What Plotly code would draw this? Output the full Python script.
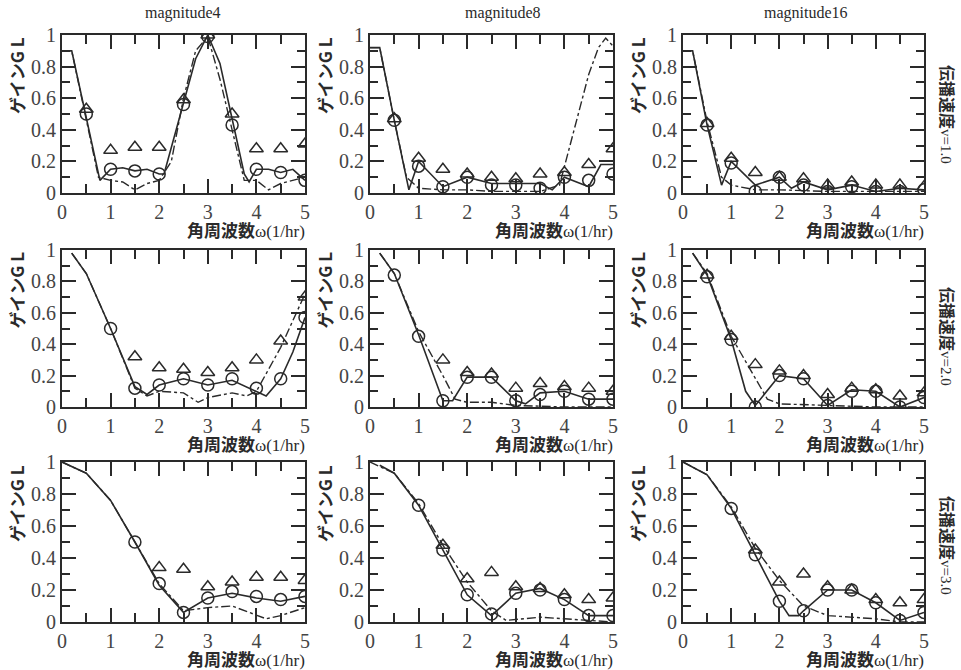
import plotly.graph_objects as go
from plotly.subplots import make_subplots

# ---------------- data ----------------
OMEGA = [0.5, 1.0, 1.5, 2.0, 2.5, 3.0, 3.5, 4.0, 4.5, 5.0]
X_TICKS = [0, 1, 2, 3, 4, 5]
Y_TICKS = [0, 0.2, 0.4, 0.6, 0.8, 1]
Y_TICK_TEXT = ["0", "0.2", "0.4", "0.6", "0.8", "1"]
COL_TITLES = ["magnitude4", "magnitude8", "magnitude16"]
ROW_LABELS = ["1.0", "2.0", "3.0"]

# row 1 : v = 1.0
S11_X = [0, 0.2, 0.78, 1.0, 1.25, 1.5, 1.75, 2.0, 2.1, 2.5, 2.75, 3.0, 3.25, 3.5, 3.75, 3.85, 4.0, 4.25, 4.5, 4.75, 5.0]
S11_Y = [0.9, 0.9, 0.08, 0.15, 0.16, 0.14, 0.15, 0.12, 0.12, 0.56, 0.85, 1.0, 0.82, 0.47, 0.12, 0.07, 0.15, 0.15, 0.13, 0.15, 0.08]
D11_X = [0, 0.2, 0.75, 1.0, 1.25, 1.5, 1.75, 2.0, 2.25, 2.5, 2.75, 3.0, 3.25, 3.5, 3.75, 4.0, 4.25, 4.5, 4.75, 5.0]
D11_Y = [0.9, 0.9, 0.1, 0.08, 0.07, 0.02, 0.06, 0.08, 0.2, 0.6, 0.9, 0.99, 0.72, 0.4, 0.08, 0.08, 0.02, 0.06, 0.08, 0.1]
C11 = [0.5, 0.15, 0.14, 0.12, 0.56, 0.99, 0.43, 0.15, 0.13, 0.08]
T11 = [0.53, 0.27, 0.29, 0.29, 0.59, 1.0, 0.5, 0.28, 0.28, 0.31]

S12_X = [0, 0.2, 0.5, 0.8, 1.0, 1.5, 2.0, 2.5, 3.0, 3.5, 3.75, 4.0, 4.5, 4.75, 5.0]
S12_Y = [0.92, 0.92, 0.46, 0.02, 0.2, 0.04, 0.1, 0.06, 0.06, 0.06, 0.02, 0.1, 0.04, 0.18, 0.18]
D12_X = [0, 0.2, 0.5, 0.75, 1.0, 1.5, 2.0, 2.5, 3.0, 3.5, 3.9, 4.2, 4.5, 4.7, 4.85, 5.0]
D12_Y = [0.92, 0.92, 0.46, 0.1, 0.03, 0.02, 0.02, 0.01, 0.01, 0.01, 0.05, 0.4, 0.75, 0.92, 0.98, 0.93]
C12 = [0.46, 0.17, 0.04, 0.1, 0.05, 0.05, 0.03, 0.1, 0.08, 0.12]
T12 = [0.47, 0.22, 0.15, 0.12, 0.1, 0.09, 0.12, 0.13, 0.18, 0.28]

S13_X = [0, 0.2, 0.5, 0.8, 1.0, 1.5, 2.0, 2.25, 2.5, 3.0, 3.5, 4.0, 4.5, 5.0]
S13_Y = [0.9, 0.9, 0.43, 0.05, 0.2, 0.05, 0.1, 0.03, 0.07, 0.02, 0.05, 0.01, 0.03, 0.02]
D13_X = [0, 0.2, 0.5, 0.8, 1.0, 1.5, 2.0, 3.0, 4.0, 5.0]
D13_Y = [0.9, 0.9, 0.45, 0.1, 0.05, 0.02, 0.02, 0.01, 0.01, 0.01]
C13 = [0.43, 0.19, 0.01, 0.1, 0.05, 0.01, 0.04, 0.01, 0.01, 0.02]
T13 = [0.44, 0.22, 0.13, 0.1, 0.09, 0.05, 0.07, 0.05, 0.05, 0.04]

# row 2 : v = 2.0
S21_X = [0.2, 0.5, 1.0, 1.5, 1.75, 2.0, 2.5, 3.0, 3.5, 4.0, 4.2, 4.5, 4.75, 5.0]
S21_Y = [0.98, 0.85, 0.5, 0.13, 0.08, 0.14, 0.18, 0.14, 0.17, 0.1, 0.07, 0.18, 0.35, 0.57]
D21_X = [0.2, 0.5, 1.0, 1.5, 1.75, 2.0, 2.5, 2.8, 3.0, 3.5, 3.8, 4.0, 4.5, 4.75, 5.0]
D21_Y = [0.98, 0.85, 0.5, 0.12, 0.07, 0.1, 0.09, 0.03, 0.06, 0.09, 0.07, 0.1, 0.38, 0.55, 0.72]
C21 = [None, 0.5, 0.12, 0.14, 0.18, 0.14, 0.18, 0.12, 0.18, 0.57]
T21 = [None, None, 0.32, 0.25, 0.24, 0.22, 0.25, 0.3, 0.42, 0.7]

S22_X = [0.2, 0.5, 1.0, 1.5, 1.7, 2.0, 2.5, 3.0, 3.2, 3.5, 4.0, 4.5, 5.0]
S22_Y = [0.98, 0.85, 0.46, 0.04, 0.04, 0.19, 0.19, 0.04, 0.02, 0.09, 0.1, 0.05, 0.05]
D22_X = [0.2, 0.5, 1.0, 1.5, 1.75, 2.0, 2.5, 3.0, 4.0, 5.0]
D22_Y = [0.98, 0.85, 0.48, 0.2, 0.05, 0.03, 0.03, 0.01, 0.0, 0.0]
C22 = [0.84, 0.45, 0.04, 0.19, 0.19, 0.04, 0.08, 0.1, 0.05, 0.05]
T22 = [None, None, 0.3, 0.22, 0.21, 0.12, 0.15, 0.13, 0.12, 0.1]

S23_X = [0.2, 0.5, 1.0, 1.3, 1.5, 2.0, 2.5, 3.0, 3.5, 4.0, 4.5, 5.0]
S23_Y = [0.98, 0.84, 0.43, 0.1, 0.01, 0.2, 0.18, 0.01, 0.11, 0.1, 0.0, 0.06]
D23_X = [0.2, 0.5, 1.0, 1.5, 1.75, 2.0, 3.0, 4.0, 5.0]
D23_Y = [0.98, 0.85, 0.45, 0.18, 0.05, 0.02, 0.01, 0.0, 0.0]
C23 = [0.83, 0.43, 0.0, 0.2, 0.18, 0.01, 0.1, 0.1, 0.0, 0.06]
T23 = [0.84, 0.45, 0.27, 0.23, 0.2, 0.08, 0.12, 0.11, 0.07, 0.09]

# row 3 : v = 3.0
S31_X = [0, 0.5, 1.0, 1.5, 2.0, 2.5, 3.0, 3.5, 4.0, 4.5, 5.0]
S31_Y = [1.0, 0.93, 0.76, 0.5, 0.23, 0.06, 0.15, 0.18, 0.15, 0.13, 0.16]
D31_X = [0, 0.5, 1.0, 1.5, 2.0, 2.5, 3.0, 3.5, 4.0, 4.2, 4.5, 5.0]
D31_Y = [1.0, 0.93, 0.76, 0.5, 0.24, 0.07, 0.09, 0.1, 0.04, 0.02, 0.04, 0.09]
C31 = [None, None, 0.5, 0.24, 0.06, 0.15, 0.19, 0.16, 0.14, 0.16]
T31 = [None, None, None, 0.34, 0.33, 0.22, 0.25, 0.28, 0.28, 0.26]

S32_X = [0.2, 0.5, 1.0, 1.5, 2.0, 2.5, 3.0, 3.5, 4.0, 4.5, 5.0]
S32_Y = [0.98, 0.93, 0.73, 0.45, 0.17, 0.04, 0.18, 0.21, 0.14, 0.04, 0.04]
D32_X = [0, 0.5, 1.0, 1.5, 2.0, 2.5, 2.8, 3.5, 4.0, 5.0]
D32_Y = [1.0, 0.93, 0.74, 0.48, 0.25, 0.07, 0.01, 0.03, 0.02, 0.0]
C32 = [None, 0.73, 0.45, 0.17, 0.05, 0.18, 0.2, 0.14, 0.04, 0.04]
T32 = [None, None, 0.48, 0.27, 0.31, 0.22, 0.21, 0.17, 0.14, 0.15]

S33_X = [0, 0.5, 1.0, 1.5, 2.0, 2.2, 2.4, 2.5, 3.0, 3.5, 4.0, 4.5, 5.0]
S33_Y = [1.0, 0.92, 0.71, 0.42, 0.13, 0.04, 0.04, 0.07, 0.2, 0.2, 0.12, 0.01, 0.06]
D33_X = [0, 0.5, 1.0, 1.5, 2.0, 2.5, 3.0, 3.5, 4.0, 4.5, 5.0]
D33_Y = [1.0, 0.92, 0.72, 0.46, 0.26, 0.1, 0.04, 0.03, 0.02, 0.0, 0.0]
C33 = [None, 0.71, 0.42, 0.13, 0.07, 0.2, 0.2, 0.12, 0.01, 0.06]
T33 = [None, None, 0.45, 0.25, 0.3, 0.22, 0.2, 0.14, 0.12, 0.14]

PANELS = [
    [(S11_X, S11_Y, D11_X, D11_Y, C11, T11), (S12_X, S12_Y, D12_X, D12_Y, C12, T12), (S13_X, S13_Y, D13_X, D13_Y, C13, T13)],
    [(S21_X, S21_Y, D21_X, D21_Y, C21, T21), (S22_X, S22_Y, D22_X, D22_Y, C22, T22), (S23_X, S23_Y, D23_X, D23_Y, C23, T23)],
    [(S31_X, S31_Y, D31_X, D31_Y, C31, T31), (S32_X, S32_Y, D32_X, D32_Y, C32, T32), (S33_X, S33_Y, D33_X, D33_Y, C33, T33)],
]

# ---------------- layout ----------------
W, H = 961, 670
COL_PX = [(62, 305), (370, 613), (683, 924)]
ROW_PX = [(35, 193), (250, 407), (462, 622)]
INK = "#2a2a2a"
SERIF = "Liberation Serif"
GOTHIC = "Noto Sans CJK JP"

fig = make_subplots(rows=3, cols=3)

for r in range(3):
    for c in range(3):
        sx, sy, dx, dy, cy, ty = PANELS[r][c]
        fig.add_trace(go.Scatter(x=sx, y=sy, mode="lines", line=dict(color=INK, width=1.6),
                                 showlegend=False, hoverinfo="skip"), row=r + 1, col=c + 1)
        fig.add_trace(go.Scatter(x=dx, y=dy, mode="lines", line=dict(color=INK, width=1.4, dash="dashdot"),
                                 showlegend=False, hoverinfo="skip"), row=r + 1, col=c + 1)
        fig.add_trace(go.Scatter(x=OMEGA, y=cy, mode="markers",
                                 marker=dict(symbol="circle-open", size=12, color=INK, line=dict(width=1.5)),
                                 showlegend=False), row=r + 1, col=c + 1)
        fig.add_trace(go.Scatter(x=OMEGA, y=ty, mode="markers",
                                 marker=dict(symbol="triangle-up-open", size=12, color=INK, line=dict(width=1.5)),
                                 showlegend=False), row=r + 1, col=c + 1)

        x0, x1 = COL_PX[c]
        y0, y1 = ROW_PX[r]
        fig.update_xaxes(domain=[x0 / W, x1 / W], range=[0, 5], tickvals=X_TICKS, automargin=False,
                         ticks="inside", ticklen=14, tickwidth=2, tickcolor=INK,
                         minor=dict(dtick=0.5, ticks="inside", ticklen=9, tickwidth=2, tickcolor=INK),
                         showline=True, linewidth=2, linecolor=INK, mirror="ticks",
                         showgrid=False, zeroline=False,
                         tickfont=dict(family=SERIF, size=20, color="#444"),
                         row=r + 1, col=c + 1)
        fig.update_yaxes(domain=[1 - y1 / H, 1 - y0 / H], range=[0, 1], tickvals=Y_TICKS, ticktext=Y_TICK_TEXT,
                         automargin=False,
                         ticks="inside", ticklen=14, tickwidth=2, tickcolor=INK,
                         minor=dict(dtick=0.1, ticks="inside", ticklen=8, tickwidth=2, tickcolor=INK),
                         showline=True, linewidth=2, linecolor=INK, mirror="ticks",
                         showgrid=False, zeroline=False,
                         tickfont=dict(family=SERIF, size=20, color="#444"),
                         row=r + 1, col=c + 1)

        # y title
        fig.add_annotation(x=(x0 - 46) / W, y=1 - ((y0 + y1) / 2 - 38) / H, xref="paper", yref="paper",
                           xanchor="center", yanchor="middle",
                           text="<b>ゲインG L</b>", textangle=-90, showarrow=False,
                           font=dict(family=GOTHIC, size=17, color=INK))
        # x title
        fig.add_annotation(x=(x1 + 2) / W, y=1 - (y1 + 36) / H, xref="paper", yref="paper",
                           xanchor="right", yanchor="middle",
                           text="<b>角周波数</b><span style='font-family:Liberation Serif;font-size:17px'>ω(1/hr)</span>",
                           showarrow=False, font=dict(family=GOTHIC, size=17, color=INK))

# column titles
for c, t in enumerate(COL_TITLES):
    cx = [183, 503, 806][c]
    fig.add_annotation(x=cx / W, y=1 - 13 / H, xref="paper", yref="paper", text=t, showarrow=False,
                       xanchor="center", yanchor="middle",
                       font=dict(family=SERIF, size=16, color=INK))

# row labels
for r, v in enumerate(ROW_LABELS):
    cy = [114, 336, 545][r]
    fig.add_annotation(x=948 / W, y=1 - cy / H, xref="paper", yref="paper",
                       xanchor="center", yanchor="middle",
                       text="<b>伝播速度</b><span style='font-family:Liberation Serif;font-size:15px'>v=" + v + "</span>",
                       textangle=90, showarrow=False, font=dict(family=GOTHIC, size=16, color=INK))

fig.update_layout(width=W, height=H, margin=dict(l=0, r=0, t=0, b=0),
                  paper_bgcolor="white", plot_bgcolor="white", showlegend=False)

fig.write_html("out.html", config={"displayModeBar": False},
               post_script="document.body.style.margin='0';")
